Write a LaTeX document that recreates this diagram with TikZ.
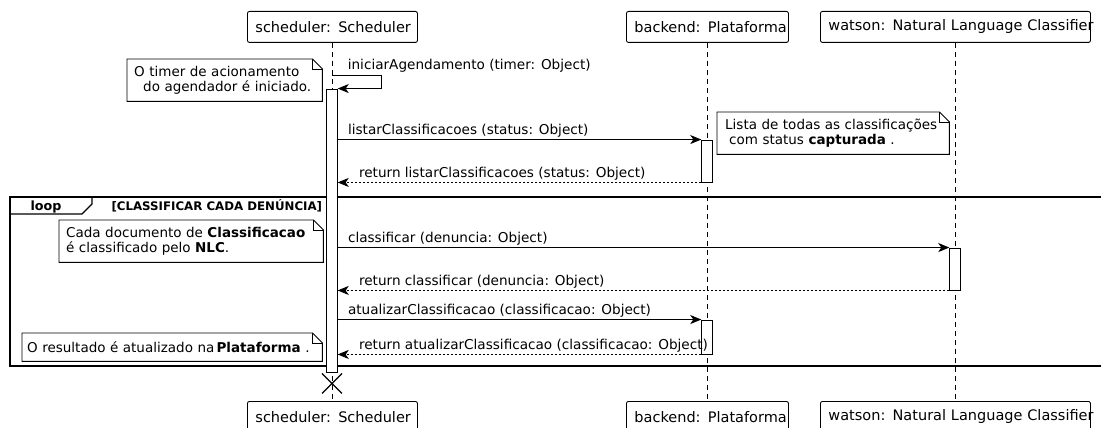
\documentclass[tikz,border=0pt]{standalone}
\usepackage{fontspec}
\setmainfont{DejaVu Sans}
\usepackage{tikz}
\usetikzlibrary{arrows.meta}

\newcommand{\msgfont}{\fontsize{13.6}{16}\selectfont}
% nota com canto dobrado
\newcommand{\dogear}[1]{%
  \draw[line width=0.9pt] (#1.north west) -- ([xshift=-10pt]#1.north east)
    -- ([yshift=-10pt]#1.north east) -- (#1.south east) -- (#1.south west) -- cycle;
  \draw[line width=0.9pt] ([xshift=-10pt]#1.north east) |- ([yshift=-10pt]#1.north east);}

\tikzset{
  actor/.style={draw, line width=0.9pt, rounded corners=2pt, anchor=north west,
    minimum height=31pt, inner xsep=8pt, inner ysep=0pt, align=left,
    font=\fontsize{14.5}{17}\selectfont},
  lifeline/.style={line width=0.9pt, dash pattern=on 5pt off 4pt},
  actbar/.style={draw, fill=white, line width=0.9pt, minimum width=10.5pt, inner sep=0pt},
  msg/.style={line width=1pt, -{Stealth[length=11pt,width=9pt,inset=3pt]}},
  ret/.style={msg, dash pattern=on 2pt off 2pt},
  fwdlabel/.style={pos=0, anchor=base west, xshift=6.5pt, yshift=5pt, font=\msgfont},
  retlabel/.style={pos=1, anchor=base west, xshift=17.5pt, yshift=5pt, font=\msgfont},
  note/.style={anchor=north west, inner ysep=0pt, align=left,
    font=\fontsize{13.5}{15}\selectfont},
  frame/.style={line width=1.2pt}
}

\begin{document}
\begin{tikzpicture}[x=1pt, y=-1pt]
    \useasboundingbox (0,0) rectangle (1101,428);
    \clip (0,0) rectangle (1101,428);
    % Participantes (em cima e em baixo)
    \foreach \n/\y in {/11, 2/401} {
        \node[actor, text width=154pt] (sch\n) at (247,\y) {\mbox{scheduler: Scheduler}};
        \node[actor, text width=146pt] (bck\n) at (626,\y) {\mbox{backend: Plataforma}};
        \node[actor, text width=254pt] (wat\n) at (820,\y) {\mbox{watson: Natural Language Classifier}};
    }
    \foreach \a in {sch, bck, wat}
        \draw[lifeline] (\a.south) -- (\a2.north);

    % Fragmento loop
    \draw[frame] (10,197) rectangle (1110,366);
    \draw[frame] (10,214) -- (82,214) -- (92,204) -- (92,197);
    \node[anchor=base west, font=\bfseries\fontsize{12.7}{14}\selectfont] (lp) at (27,210) {loop};
    \node[anchor=base west, font=\bfseries\fontsize{11.8}{14}\selectfont] (gd) at (108,210) {[CLASSIFICAR CADA DENÚNCIA]};

    % Barras de ativacao
    \node[actbar, minimum height=283pt] (a0) at (332,230.5) {};
    \node[actbar, minimum height=42pt] (b1) at (707,161) {};
    \node[actbar, minimum height=42pt] (w1) at (955,269) {};
    \node[actbar, minimum height=34pt] (b2) at (707,337) {};

    % Mensagens
    \draw[msg] ([yshift=13pt]a0.north) -- node[pos=0, anchor=base west, xshift=12pt, yshift=6pt, font=\msgfont] {iniciarAgendamento (timer: Object)}
        ++(49,0) |- (a0.north east);
    \draw[msg] (a0.east |- b1.north) -- node[fwdlabel] {listarClassificacoes (status: Object)} (b1.north west);
    \draw[ret] (b1.south west) -- node[retlabel] {return listarClassificacoes (status: Object)} (a0.east |- b1.south);
    \draw[msg] (a0.east |- w1.north) -- node[fwdlabel] {classificar (denuncia: Object)} (w1.north west);
    \draw[ret] (w1.south west) -- node[retlabel] {return classificar (denuncia: Object)} (a0.east |- w1.south);
    \draw[msg] (a0.east |- b2.north) -- node[fwdlabel] {atualizarClassificacao (classificacao: Object)} (b2.north west);
    \draw[ret] (b2.south west) -- node[retlabel] {return atualizarClassificacao (classificacao: Object)} (a0.east |- b2.south);

    % Fim do scheduler
    \draw[line width=1.3pt] ([shift={(-10pt,-1pt)}]a0.south) -- ([shift={(10pt,-21pt)}]a0.south)
        ([shift={(-10pt,-21pt)}]a0.south) -- ([shift={(10pt,-1pt)}]a0.south);

    % Notas
    \node[note, text width=181pt, inner xsep=7pt, minimum height=42pt] (n1) at (127,59)
        {\mbox{O timer de acionamento}\\\mbox{\hspace*{9pt}do agendador é iniciado.}};
    \dogear{n1}
    \node[note, text width=216pt, inner xsep=8pt, minimum height=42pt] (n2) at (717,112)
        {\mbox{Lista de todas as classificações}\\\mbox{\hspace*{4pt}com status \textbf{capturada} .}};
    \dogear{n2}
    \node[note, text width=250pt, inner xsep=7pt, minimum height=42pt] (n3) at (59,220)
        {\mbox{Cada documento de \textbf{Classificacao}}\\\mbox{é classificado pelo \textbf{NLC}.}};
    \dogear{n3}
    \node[note, text width=290pt, inner xsep=5pt, minimum height=28pt] (n4) at (22,333)
        {\mbox{O resultado é atualizado na\,\textbf{Plataforma} .}};
    \dogear{n4}
\end{tikzpicture}
\end{document}
